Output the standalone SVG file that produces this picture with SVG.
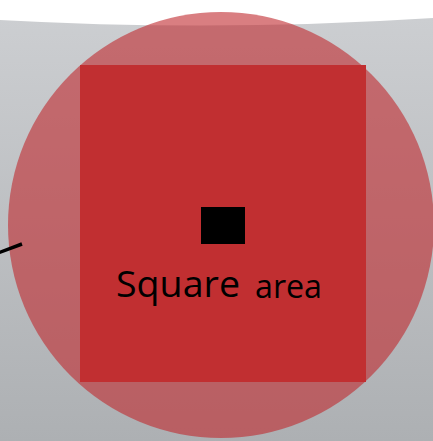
<svg xmlns="http://www.w3.org/2000/svg" width="433" height="441" viewBox="0 0 433 441">
<style>
.lbl{font-family:"Open Sans","Liberation Sans",sans-serif;fill:#000}
</style>
<defs>
<linearGradient id="bg" x1="0" y1="0" x2="0" y2="1">
<stop offset="0" stop-color="#ccced1"/>
<stop offset="1" stop-color="#adb0b3"/>
</linearGradient>
</defs>
<rect x="0" y="0" width="433" height="441" fill="#ffffff"/>
<path d="M0,20 Q216,32 433,18 L433,441 L0,441 Z" fill="url(#bg)"/>
<g id="circle">
<circle cx="221" cy="225" r="213" fill="#c0282d" fill-opacity="0.6"/>
</g>
<g id="square">
<rect x="80" y="65" width="286" height="317" fill="#c12f31"/>
</g>
<g id="point">
<rect x="201" y="207" width="44" height="37" fill="#000"/>
</g>
<g id="label">
<text class="lbl" x="116" y="297" font-size="37" textLength="124" lengthAdjust="spacingAndGlyphs">Square</text>
<text class="lbl" x="255" y="298" font-size="33" textLength="67" lengthAdjust="spacingAndGlyphs">area</text>
</g>
<g id="connectors">
<line x1="-2" y1="253" x2="22" y2="244" stroke="#000" stroke-width="3.5"/>
</g>
</svg>
